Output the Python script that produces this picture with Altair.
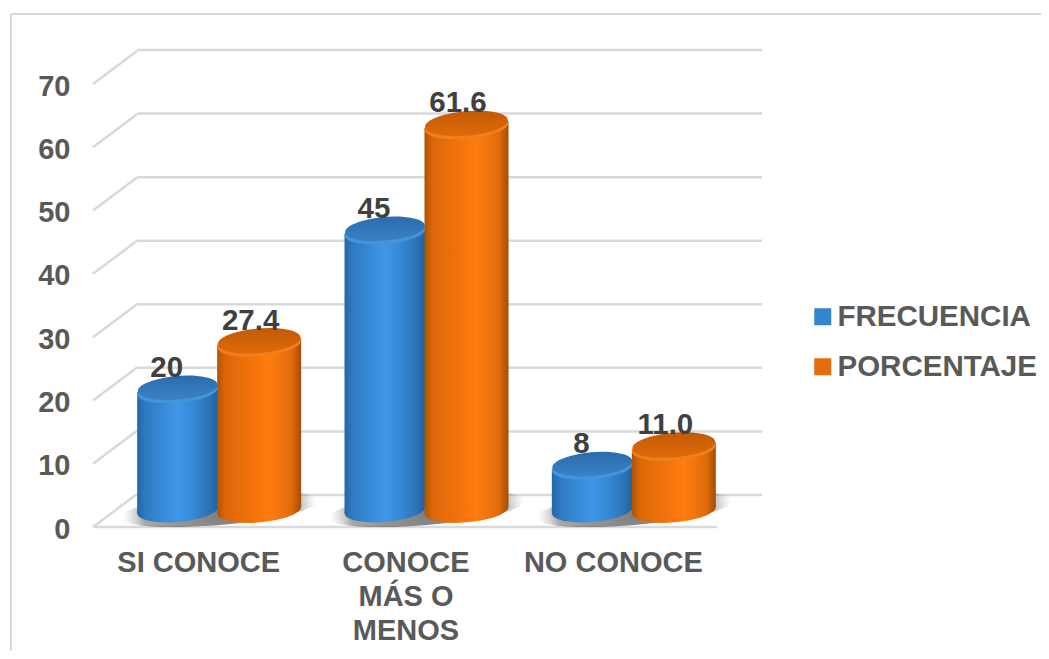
import altair as alt
import pandas as pd

categorias = ["SI CONOCE", "CONOCE MÁS O MENOS", "NO CONOCE"]
series = ["FRECUENCIA", "PORCENTAJE"]
frecuencia = [20, 45, 8]
porcentaje = [27.4, 61.6, 11.0]
marcas_y = [0, 10, 20, 30, 40, 50, 60, 70]

FONT = "Liberation Sans"
GRID = "#D9D9D9"
W, H = 1033, 643

datos = pd.DataFrame(
    {"cat": categorias * 2,
     "serie": [series[0]] * 3 + [series[1]] * 3,
     "valor": frecuencia + porcentaje}
)
df_f = datos[datos.serie == series[0]]
df_p = datos[datos.serie == series[1]]
df_c = pd.DataFrame({"cat": categorias, "base": [0, 0, 0]})
df_m = pd.DataFrame({"tick": marcas_y})
df_0 = pd.DataFrame({"tick": [0]})

ELLIPSE = "M-0.996,0.087 A1,0.29,-5,1,1,0.996,-0.087 A1,0.29,-5,1,1,-0.996,0.087 Z"
SOMBRA = "M-0.996,0.087 A1,0.16,-5,1,1,0.996,-0.087 A1,0.16,-5,1,1,-0.996,0.087 Z"


def grad_h(colors, offsets):
    return alt.Gradient(
        gradient="linear", x1=0, x2=1, y1=0, y2=0,
        stops=[alt.GradientStop(color=c, offset=o) for c, o in zip(colors, offsets)],
    )


def grad_v(c1, c2):
    return alt.Gradient(
        gradient="linear", x1=0, x2=0, y1=0, y2=1,
        stops=[alt.GradientStop(color=c1, offset=0), alt.GradientStop(color=c2, offset=1)],
    )


C_AZUL = ["#2566A6", "#2F7AC0", "#3F97E8", "#3A8FDC", "#2C75B8", "#21609E"]
C_NARANJA = ["#B05305", "#DC6809", "#F8760C", "#FF7D10", "#E26C0A", "#A44D05"]
OFF = [0, 0.1, 0.5, 0.62, 0.88, 1]
OFF_IZQ = [0, 0.2, 1]
OFF_DER = [0, 0.24, 0.76, 1]

x_cat = alt.X(
    "cat:N",
    sort=categorias,
    title=None,
    scale=alt.Scale(domain=categorias, range=[87, 709], paddingInner=0, paddingOuter=0),
    axis=alt.Axis(
        orient="bottom", offset=-103, domain=False, ticks=False, grid=False,
        labelAngle=0, labelPadding=0, labelFont=FONT, labelFontSize=29,
        labelFontWeight="bold", labelColor="#595959", labelLimit=300,
        labelBaseline="top", labelLineHeight=34,
        labelExpr="datum.label == 'CONOCE MÁS O MENOS' ? ['CONOCE', 'MÁS O', 'MENOS'] : datum.label",
    ),
)

y_front = alt.Y(
    "tick:Q", title=None,
    scale=alt.Scale(domain=[0, 70], range=[519, 76]),
    axis=alt.Axis(
        orient="left", offset=-62, domain=False, ticks=False, grid=False,
        values=marcas_y, labelPadding=0, labelFont=FONT, labelFontSize=29,
        labelFontWeight="bold", labelColor="#595959", labelAlign="right", labelOffset=2,
    ),
)
y_back = alt.Y("tick:Q", title=None, axis=None, scale=alt.Scale(domain=[0, 70], range=[487, 42]))
y_val = alt.Y("valor:Q", title=None, axis=None, scale=alt.Scale(domain=[0, 70], range=[508, 63]))
y_base = alt.Y("base:Q", title=None, axis=None, scale=alt.Scale(domain=[0, 70], range=[508, 63]))

marco_sup = alt.Chart(df_0).mark_rule(color=GRID, strokeWidth=2).encode(
    x=alt.value(3), x2=alt.value(W), y=alt.value(6)
)
marco_izq = alt.Chart(df_0).mark_rule(color=GRID, strokeWidth=2).encode(
    x=alt.value(3), y=alt.value(6), y2=alt.value(H)
)
rejilla = alt.Chart(df_m).mark_rule(color=GRID, strokeWidth=2.5).encode(
    y=y_back, x=alt.value(129), x2=alt.value(754)
)
diagonales = alt.Chart(df_m).mark_rule(color=GRID, strokeWidth=2.5, y2Offset=-33).encode(
    y=y_front, y2=alt.Y2("tick:Q"), x=alt.value(85), x2=alt.value(129)
)
piso = alt.Chart(df_0).mark_rule(color=GRID, strokeWidth=2.5).encode(
    y=alt.Y("tick:Q", title=None, axis=None, scale=alt.Scale(domain=[0, 70], range=[519, 76])),
    x=alt.value(85), x2=alt.value(709),
)

sombra_fill = {
    "gradient": "radial", "x1": 0.5, "y1": 0.5, "r1": 0, "x2": 0.5, "y2": 0.5, "r2": 0.5,
    "stops": [
        {"offset": 0, "color": "rgba(70,70,70,0.7)"},
        {"offset": 0.78, "color": "rgba(95,95,95,0.55)"},
        {"offset": 1, "color": "rgba(170,170,170,0)"},
    ],
}
sombras = alt.Chart(df_c).mark_point(
    shape=SOMBRA, filled=True, fill=sombra_fill, opacity=1, size=196 ** 2, xOffset=21, yOffset=-7
).encode(x=x_cat, y=y_base)

leyenda = alt.Chart(datos).mark_bar(size=40).encode(
    x=x_cat,
    y=y_val,
    y2=alt.Y2("valor:Q"),
    color=alt.Color(
        "serie:N", title=None,
        scale=alt.Scale(domain=series, range=["#3585CC", "#E66C0C"]),
        legend=alt.Legend(
            orient="none", legendX=800, legendY=294, symbolType="square", symbolSize=289,
            symbolStrokeWidth=0, labelFont=FONT, labelFontSize=29.5, labelFontWeight="bold",
            labelColor="#595959", labelOffset=0, rowPadding=19, labelLimit=300, padding=0,
        ),
    ),
)


def cilindro(df, colores, anillo, tapa, ancho, dx):
    completo = grad_h(colores, OFF)
    izq = grad_h(colores[:3] + [colores[2]], [0, 0.19, 0.96, 1])
    der = grad_h(colores[2:], OFF_DER)
    return [
        alt.Chart(df).mark_point(
            shape=ELLIPSE, filled=True, fill=completo, opacity=1, size=ancho ** 2,
            xOffset=dx, yOffset=-6,
        ).encode(x=x_cat, y=alt.Y("b:Q", title=None, axis=None,
                                  scale=alt.Scale(domain=[0, 70], range=[508, 63]))).transform_calculate(b="0"),
        alt.Chart(df).mark_bar(
            size=ancho / 2 + 1.5, fill=izq, xOffset=dx - ancho / 4 + 0.75, yOffset=3.5, y2Offset=-2.5
        ).encode(x=x_cat, y=y_val, y2=alt.Y2(datum=0)),
        alt.Chart(df).mark_bar(
            size=ancho / 2, fill=der, xOffset=dx + ancho / 4, yOffset=-3.5, y2Offset=-9.5
        ).encode(x=x_cat, y=y_val, y2=alt.Y2(datum=0)),
        alt.Chart(df).mark_point(
            shape=ELLIPSE, filled=True, fill=anillo, opacity=1, size=ancho ** 2,
            xOffset=dx, yOffset=2,
        ).encode(x=x_cat, y=y_val),
        alt.Chart(df).mark_point(
            shape=ELLIPSE, filled=True, fill=tapa, opacity=1, size=(ancho - 1) ** 2,
            xOffset=dx, yOffset=-1,
        ).encode(x=x_cat, y=y_val),
    ]


texto_f = alt.Chart(df_f).mark_text(
    font=FONT, fontSize=29.5, fontWeight="bold", color="#404040", dx=-32, dy=-21
).encode(x=x_cat, y=y_val, text=alt.Text("valor:Q", format="d"))
texto_p = alt.Chart(df_p).mark_text(
    font=FONT, fontSize=29.5, fontWeight="bold", color="#404040", dx=52, dy=-21
).encode(x=x_cat, y=y_val, text=alt.Text("valor:Q", format=".1f"))

chart = alt.layer(
    marco_sup, marco_izq, rejilla, diagonales, piso, sombras, leyenda,
    *cilindro(df_f, C_AZUL, "#4593DA", grad_v("#2A6CAE", "#3A82C6"), 81, -21),
    *cilindro(df_p, C_NARANJA, "#EF7E1C", grad_v("#C25A05", "#E06A0A"), 84, 60.5),
    texto_f, texto_p,
).resolve_scale(y="independent").properties(
    width=W, height=H, padding=0,
    autosize=alt.AutoSizeParams(type="none"),
    background="white",
).configure_view(stroke=None)

chart.save("out.html", embed_options={"renderer": "svg", "actions": False})
